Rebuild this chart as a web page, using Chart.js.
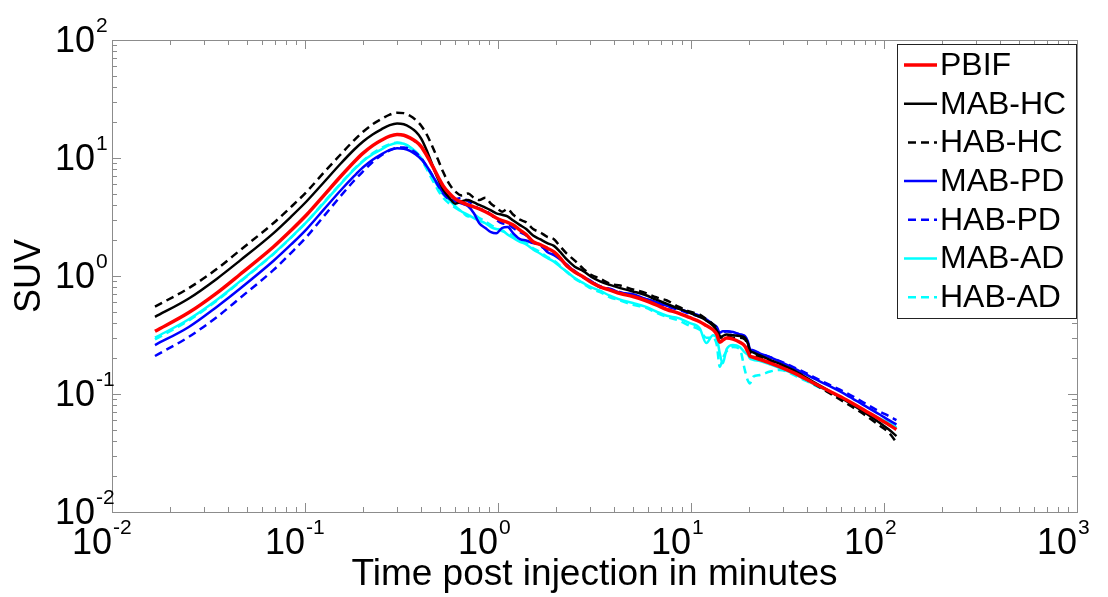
<!DOCTYPE html>
<html>
<head>
<meta charset="utf-8">
<script src="https://cdn.jsdelivr.net/npm/chart.js@4.4.0/dist/chart.umd.min.js"></script>
<style>
html, body { margin: 0; padding: 0; background: #fff; }
#wrap { width: 1108px; height: 597px; }
</style>
</head>
<body>
<div id="wrap"><canvas id="suv" width="1108" height="597"></canvas></div>
<script>
// time axis (minutes), shared by every curve
const times = [0.0167, 0.025, 0.035, 0.046, 0.0685, 0.085, 0.102, 0.125, 0.152, 0.18,
  0.2, 0.225, 0.25, 0.275, 0.3, 0.325, 0.35, 0.375, 0.4, 0.43,
  0.46, 0.49, 0.52, 0.56, 0.6, 0.65, 0.7, 0.75, 0.8, 0.86,
  0.92, 0.98, 1.05, 1.12, 1.2, 1.3, 1.4, 1.52, 1.65, 1.8,
  1.95, 2.1, 2.27, 2.5, 2.77, 3.05, 3.38, 3.8, 4.3, 5.0,
  5.8, 6.6, 7.5, 8.6, 9.8, 11.1, 12.0, 13.0, 13.6, 14.1,
  14.6, 15.3, 16.5, 17.9, 19.0, 19.7, 20.2, 21.0, 22.8, 25.7,
  28.9, 35, 43, 52, 64, 78, 95, 106, 116];

const pbif = [0.34, 0.49, 0.72, 1.03, 1.76, 2.45, 3.3, 4.8, 6.9, 9.3,
  11, 12.8, 14.2, 15.3, 15.8, 15.6, 14.8, 13.8, 12.5, 10.3,
  8.4, 6.9, 5.8, 5.0, 4.5, 4.2, 4.0, 3.85, 3.7, 3.5,
  3.3, 3.1, 2.95, 2.85, 2.7, 2.45, 2.25, 1.95, 1.85, 1.72,
  1.6, 1.42, 1.22, 1.08, 0.98, 0.88, 0.81, 0.76, 0.71, 0.67,
  0.62, 0.57, 0.52, 0.485, 0.445, 0.41, 0.38, 0.35, 0.32, 0.275,
  0.285, 0.298, 0.292, 0.275, 0.255, 0.228, 0.21, 0.205, 0.196, 0.183,
  0.17, 0.148, 0.124, 0.106, 0.089, 0.074, 0.061, 0.055, 0.05];

const mabHC = [0.45, 0.645, 0.95, 1.35, 2.3, 3.2, 4.3, 6.2, 8.85, 11.8,
  13.8, 15.9, 17.6, 19.0, 19.6, 19.3, 18.2, 16.7, 14.6, 11.3,
  8.5, 6.6, 5.4, 4.6, 4.1, 4.3, 4.4, 4.2, 4.0, 3.8,
  3.6, 3.4, 3.3, 3.2, 2.95, 2.7, 2.5, 2.2, 2.05, 1.9,
  1.8, 1.6, 1.38, 1.2, 1.1, 0.98, 0.9, 0.84, 0.79, 0.74,
  0.69, 0.63, 0.58, 0.53, 0.49, 0.45, 0.42, 0.38, 0.345, 0.3,
  0.31, 0.32, 0.315, 0.31, 0.3, 0.27, 0.235, 0.225, 0.212, 0.195,
  0.18, 0.155, 0.127, 0.106, 0.087, 0.071, 0.057, 0.05, 0.044];

const habHC = [0.55, 0.79, 1.15, 1.65, 2.8, 3.87, 5.18, 7.5, 10.6, 14.2,
  16.7, 19.4, 21.5, 23.3, 24.2, 24.0, 22.8, 21.0, 18.8, 15.5,
  12.2, 9.6, 7.6, 6.0, 5.2, 4.8, 5.0, 4.6, 4.4, 4.6,
  4.1, 3.8, 3.5, 3.7, 3.3, 3.0, 2.85, 2.5, 2.35, 2.15,
  2.05, 1.78, 1.55, 1.35, 1.15, 1.02, 0.95, 0.86, 0.83, 0.77,
  0.72, 0.66, 0.62, 0.55, 0.5, 0.47, 0.43, 0.39, 0.36, 0.31,
  0.3, 0.31, 0.3, 0.3, 0.29, 0.26, 0.225, 0.215, 0.205, 0.19,
  0.175, 0.15, 0.123, 0.102, 0.083, 0.068, 0.054, 0.047, 0.039];

const mabPD = [0.26, 0.37, 0.55, 0.78, 1.34, 1.86, 2.5, 3.65, 5.25, 7.05,
  8.35, 9.7, 10.8, 11.7, 12.1, 12.0, 11.5, 10.7, 9.8, 8.4,
  7.0, 5.9, 5.1, 4.5, 4.3, 4.1, 3.9, 3.4, 2.8, 2.55,
  2.35, 2.3, 2.55, 2.6, 2.3, 2.05, 2.0, 1.9, 1.85, 1.6,
  1.5, 1.38, 1.25, 1.08, 0.98, 0.9, 0.8, 0.78, 0.72, 0.7,
  0.64, 0.6, 0.56, 0.53, 0.49, 0.46, 0.43, 0.39, 0.37, 0.33,
  0.34, 0.34, 0.335, 0.32, 0.31, 0.28, 0.24, 0.235, 0.22, 0.205,
  0.188, 0.162, 0.136, 0.117, 0.098, 0.081, 0.067, 0.06, 0.055];

const habPD = [0.21, 0.305, 0.45, 0.65, 1.12, 1.58, 2.15, 3.2, 4.7, 6.45,
  7.7, 9.3, 10.6, 11.6, 12.2, 12.3, 11.9, 11.1, 10.0, 8.4,
  7.0, 5.8, 5.0, 4.5, 4.5, 4.6, 4.3, 4.0, 3.7, 3.6,
  3.3, 3.0, 2.8, 2.75, 2.55, 2.35, 2.2, 1.95, 1.8, 1.65,
  1.55, 1.4, 1.22, 1.1, 0.97, 0.9, 0.82, 0.77, 0.73, 0.68,
  0.64, 0.6, 0.55, 0.52, 0.48, 0.45, 0.42, 0.39, 0.36, 0.32,
  0.33, 0.34, 0.33, 0.32, 0.305, 0.27, 0.235, 0.23, 0.22, 0.205,
  0.19, 0.165, 0.14, 0.12, 0.102, 0.085, 0.071, 0.065, 0.06];

const mabAD = [0.3, 0.43, 0.63, 0.9, 1.54, 2.14, 2.87, 4.15, 5.95, 8.0,
  9.4, 10.8, 11.9, 12.9, 13.4, 13.2, 12.4, 11.3, 10.0, 8.2,
  6.8, 5.7, 4.9, 4.4, 3.9, 3.5, 3.3, 3.1, 2.95, 2.8,
  2.6, 2.5, 2.45, 2.25, 2.1, 1.95, 1.85, 1.68, 1.55, 1.42,
  1.32, 1.2, 1.09, 0.96, 0.87, 0.8, 0.75, 0.68, 0.63, 0.59,
  0.55, 0.5, 0.46, 0.44, 0.4, 0.36, 0.27, 0.315, 0.3, 0.22,
  0.182, 0.24, 0.26, 0.25, 0.225, 0.215, 0.2, 0.195, 0.19, 0.178,
  0.166, 0.145, 0.122, 0.105, 0.088, 0.073, 0.062, 0.057, 0.052];

const habAD = [0.29, 0.42, 0.62, 0.89, 1.53, 2.13, 2.87, 4.2, 6.0, 8.1,
  9.5, 11.0, 12.2, 13.1, 13.5, 13.2, 12.3, 11.1, 9.7, 7.9,
  6.4, 5.3, 4.6, 4.1, 3.8, 3.5, 3.2, 3.3, 3.1, 2.9,
  2.7, 2.55, 2.4, 2.3, 2.2, 2.0, 1.9, 1.72, 1.6, 1.45,
  1.35, 1.22, 1.08, 0.95, 0.86, 0.78, 0.73, 0.66, 0.62, 0.57,
  0.54, 0.49, 0.45, 0.42, 0.38, 0.35, 0.3, 0.3, 0.26, 0.17,
  0.2, 0.23, 0.25, 0.24, 0.16, 0.13, 0.123, 0.14, 0.145, 0.155,
  0.16, 0.142, 0.12, 0.104, 0.087, 0.072, 0.06, 0.055, 0.051];

const xDecades = [-2, -1, 0, 1, 2, 3];
const yDecades = [-2, -1, 0, 1, 2];

const FONT = '"Liberation Sans", Arial, Helvetica, sans-serif';

function pts(ys){
  return times.map((t, i) => ({x: t, y: ys[i]}));
}

function series(label, ys, color, width, dash){
  return {
    label: label,
    data: pts(ys),
    borderColor: color,
    backgroundColor: color,
    borderWidth: width,
    borderDash: dash,
    pointRadius: 0,
    fill: false,
    cubicInterpolationMode: 'monotone'
  };
}

// PBIF (red) is drawn on top of the others
const datasets = [
  series('PBIF', pbif, '#ff0000', 3.5, []),
  series('MAB-HC', mabHC, '#000000', 2.5, []),
  series('HAB-HC', habHC, '#000000', 2.5, [8, 5]),
  series('MAB-PD', mabPD, '#0000ff', 2.5, []),
  series('HAB-PD', habPD, '#0000ff', 2.5, [8, 5]),
  series('MAB-AD', mabAD, '#00ffff', 2.5, []),
  series('HAB-AD', habAD, '#00ffff', 2.5, [8, 5])
];
datasets.forEach((d, i) => { d.order = i === 0 ? 0 : 1; });

// box, inward ticks (major + minor) on all four sides, tick labels, legend
const frameTicks = {
  id: 'frameTicks',
  beforeDatasetsDraw(chart){
    const {ctx, chartArea: a, scales: {x, y}} = chart;
    ctx.save();
    ctx.strokeStyle = '#8c8c8c';
    ctx.lineWidth = 1;
    ctx.beginPath();
    for (let e = -2; e < 3; e++){
      for (let m = 1; m < 10; m++){
        const px = Math.round(x.getPixelForValue(m * Math.pow(10, e))) + 0.5;
        const len = m === 1 ? 9 : 5;
        ctx.moveTo(px, a.bottom); ctx.lineTo(px, a.bottom - len);
        ctx.moveTo(px, a.top); ctx.lineTo(px, a.top + len);
      }
    }
    for (let e = -2; e < 2; e++){
      for (let m = 1; m < 10; m++){
        const py = Math.round(y.getPixelForValue(m * Math.pow(10, e))) + 0.5;
        const len = m === 1 ? 9 : 5;
        ctx.moveTo(a.left, py); ctx.lineTo(a.left + len, py);
        ctx.moveTo(a.right, py); ctx.lineTo(a.right - len, py);
      }
    }
    ctx.stroke();
    ctx.strokeRect(Math.round(a.left) + 0.5, Math.round(a.top) + 0.5,
      Math.round(a.right - a.left), Math.round(a.bottom - a.top));
    ctx.restore();
  },
  afterDraw(chart){
    const {ctx, chartArea: a, scales: {x, y}} = chart;
    ctx.save();
    ctx.fillStyle = '#000';
    yDecades.forEach(e => {
      const py = y.getPixelForValue(Math.pow(10, e));
      ctx.font = '36px ' + FONT;
      ctx.textAlign = 'right';
      ctx.textBaseline = 'middle';
      ctx.fillText('10', 95, py + 2);
      ctx.font = '21px ' + FONT;
      ctx.textAlign = 'left';
      ctx.fillText(e < 0 ? '-' + (-e) : String(e), 96, py - 14);
    });
    xDecades.forEach(e => {
      const px = x.getPixelForValue(Math.pow(10, e));
      ctx.font = '36px ' + FONT;
      ctx.textAlign = 'right';
      ctx.textBaseline = 'middle';
      ctx.fillText('10', px, a.bottom + 32);
      ctx.font = '21px ' + FONT;
      ctx.textAlign = 'left';
      ctx.fillText(e < 0 ? '-' + (-e) : String(e), px + 1, a.bottom + 16);
    });

    // legend box
    const lx = 897, ly = 44, lw = 179, lh = 274;
    ctx.fillStyle = '#fff';
    ctx.fillRect(lx, ly, lw, lh);
    ctx.strokeStyle = '#222';
    ctx.lineWidth = 1;
    ctx.strokeRect(lx + 0.5, ly + 0.5, lw, lh);
    chart.data.datasets.forEach((d, i) => {
      const cy = ly + 21 + i * 38.7;
      ctx.save();
      ctx.strokeStyle = d.borderColor;
      ctx.lineWidth = d.borderWidth;
      ctx.setLineDash(d.borderDash);
      ctx.beginPath();
      ctx.moveTo(d.borderDash.length ? 908 : 904, cy);
      ctx.lineTo(937, cy);
      ctx.stroke();
      ctx.restore();
      ctx.fillStyle = '#000';
      ctx.font = '32px ' + FONT;
      ctx.textAlign = 'left';
      ctx.textBaseline = 'middle';
      ctx.fillText(d.label, 940, cy + 1);
    });
    ctx.restore();
  }
};

new Chart(document.getElementById('suv'), {
  type: 'line',
  data: { datasets: datasets },
  options: {
    responsive: false,
    animation: false,
    devicePixelRatio: 1,
    layout: { padding: { left: 0, right: 31, top: 40, bottom: 0 } },
    plugins: {
      legend: { display: false },
      tooltip: { enabled: false }
    },
    scales: {
      x: {
        type: 'logarithmic',
        min: 0.01,
        max: 1000,
        grid: { display: false },
        border: { display: false },
        ticks: { display: false },
        title: {
          display: true,
          text: 'Time post injection in minutes',
          color: '#000',
          font: { family: FONT, size: 37 },
          padding: { top: 0, bottom: 0 }
        },
        afterFit(scale){ scale.height = 85; }
      },
      y: {
        type: 'logarithmic',
        min: 0.01,
        max: 100,
        grid: { display: false },
        border: { display: false },
        ticks: { display: false },
        title: {
          display: true,
          text: 'SUV',
          color: '#000',
          font: { family: FONT, size: 36 },
          padding: { top: 8, bottom: 0 }
        },
        afterFit(scale){ scale.width = 112; }
      }
    }
  },
  plugins: [frameTicks]
});
</script>
</body>
</html>
